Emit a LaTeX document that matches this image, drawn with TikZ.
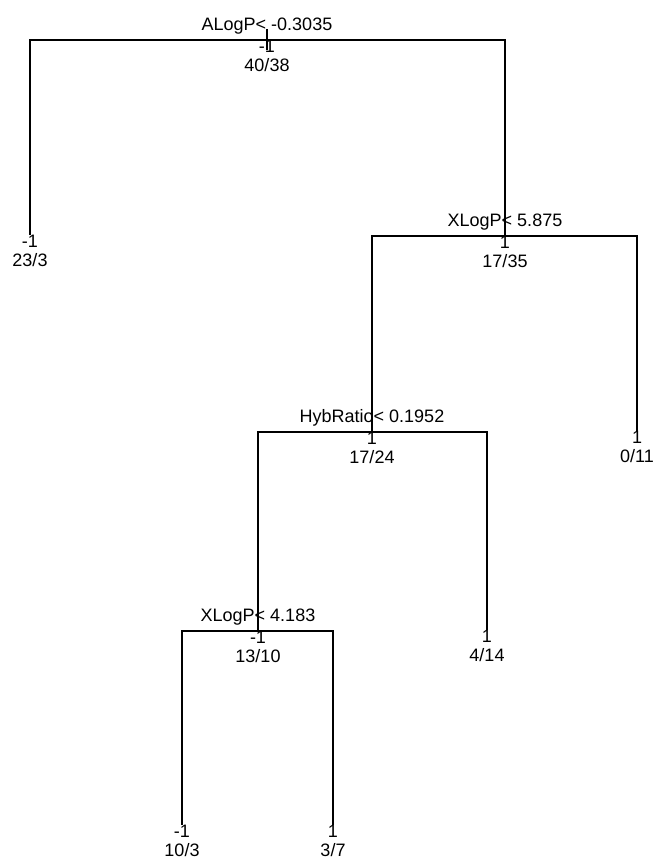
\documentclass[tikz,border=0pt]{standalone}
\usepackage{fontspec}
\setmainfont{Liberation Sans}
\begin{document}
\begin{tikzpicture}[x=1pt, y=-1pt, line width=1.1pt,
    lbl/.style={anchor=base, inner sep=0pt, font=\fontsize{18}{21}\selectfont},
    cond/.style={lbl, yshift=10pt},
    cls/.style={lbl, yshift=-12pt},
    cnt/.style={lbl, yshift=-31pt}]
        % Riquadro della figura
        \useasboundingbox (0,0) rectangle (655,860);

        % Nodi di split e foglie
        \coordinate (root) at (267,40);
        \coordinate (roottop) at (267,29);
        \coordinate (rootbot) at (267,50);
        \coordinate (leafA) at (30,235);
        \coordinate (nB) at (505,236);
        \coordinate (leafB) at (637,431);
        \coordinate (nC) at (372,432);
        \coordinate (leafC) at (487,630);
        \coordinate (nD) at (258,631);
        \coordinate (leafD) at (182,825);
        \coordinate (leafE) at (333,825);

        % Rami dell'albero
        \draw (roottop) -- (rootbot);
        \draw (leafA) -- (leafA |- root) -- (nB |- root) -- (nB);
        \draw (nC) -- (nC |- nB) -- (leafB |- nB) -- (leafB);
        \draw (nD) -- (nD |- nC) -- (leafC |- nC) -- (leafC);
        \draw (leafD) -- (leafD |- nD) -- (leafE |- nD) -- (leafE);

        % Etichette dei nodi interni
        \node[cond] (condA) at (root) {ALogP< -0.3035};
        \node[cls] (clsA) at (root) {-1};
        \node[cnt] (cntA) at (root) {40/38};
        \node[cond] (condB) at (nB) {XLogP< 5.875};
        \node[cls] (clsB) at (nB) {1};
        \node[cnt] (cntB) at (nB) {17/35};
        \node[cond] (condC) at (nC) {HybRatio< 0.1952};
        \node[cls] (clsC) at (nC) {1};
        \node[cnt] (cntC) at (nC) {17/24};
        \node[cond] (condD) at (nD) {XLogP< 4.183};
        \node[cls] (clsD) at (nD) {-1};
        \node[cnt] (cntD) at (nD) {13/10};

        % Etichette delle foglie
        \node[cls] (clsLA) at (leafA) {-1};
        \node[cnt] (cntLA) at (leafA) {23/3};
        \node[cls] (clsLB) at (leafB) {1};
        \node[cnt] (cntLB) at (leafB) {0/11};
        \node[cls] (clsLC) at (leafC) {1};
        \node[cnt] (cntLC) at (leafC) {4/14};
        \node[cls] (clsLD) at (leafD) {-1};
        \node[cnt] (cntLD) at (leafD) {10/3};
        \node[cls] (clsLE) at (leafE) {1};
        \node[cnt] (cntLE) at (leafE) {3/7};
    \end{tikzpicture}
\end{document}
